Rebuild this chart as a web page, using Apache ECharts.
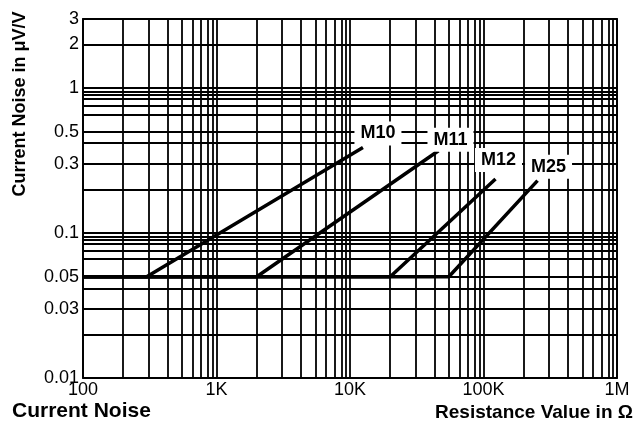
<!DOCTYPE html>
<html><head><meta charset="utf-8">
<script src="https://cdn.jsdelivr.net/npm/echarts@6/dist/echarts.min.js"></script>
<style>html,body{margin:0;padding:0;background:#fff}#c{width:640px;height:428px}</style>
</head><body><div id="c"></div>
<script>
// Series: [resistance (ohm), current noise (uV/V)]
const seriesNames = ['M10', 'M11', 'M12', 'M25'];
const M10 = [[100, 0.05], [300, 0.05], [12500, 0.39]];
const M11 = [[100, 0.05], [2000, 0.05], [46000, 0.37]];
const M12 = [[100, 0.05], [20000, 0.05], [123000, 0.236]];
const M25 = [[100, 0.05], [55000, 0.05], [254000, 0.23]];

// Axis tick labels
const xTickValues = [100, 1000, 10000, 100000, 1000000];
const xTickLabels = ['100', '1K', '10K', '100K', '1M'];
const yTickValues = [0.01, 0.03, 0.05, 0.1, 0.3, 0.5, 1, 2, 3];
const yTickLabels = ['0.01', '0.03', '0.05', '0.1', '0.3', '0.5', '1', '2', '3'];

// Grid lines (as drawn on the reference)
const xGridDecades = [100, 1000, 10000, 100000];
const xGridMantissas = [1, 2, 3.1, 4.3, 5.5, 6.6, 7.65, 8.6, 9.3];
const xGridLast = [1000000];
const yGridValues = [0.01, 0.02, 0.03, 0.041, 0.05, 0.066, 0.076, 0.084, 0.09, 0.095, 0.1,
                     0.2, 0.3, 0.42, 0.5, 0.66, 0.76, 0.84, 0.9, 0.95, 1, 2, 3];

const xGridValues = [];
xGridDecades.forEach(d => xGridMantissas.forEach(m => xGridValues.push(+(d * m).toPrecision(6))));
xGridLast.forEach(v => xGridValues.push(v));

const seriesData = [M10, M11, M12, M25];
const labelOffsets = [[15, -14], [12, -11], [3, -19], [11, -14]];

const FONT = 'Liberation Sans, Arial, Helvetica, sans-serif';

const chart = echarts.init(document.getElementById('c'), null, {renderer: 'canvas'});
chart.setOption({
  animation: false,
  backgroundColor: '#fff',
  grid: {left: 83, right: 23, top: 19, bottom: 50, show: true, borderColor: '#000', borderWidth: 1.8, backgroundColor: 'transparent'},
  xAxis: {
    type: 'log', logBase: 10, min: 100, max: 1000000,
    axisLine: {show: false},
    axisTick: {show: false, customValues: xGridValues},
    splitLine: {show: true, lineStyle: {color: '#000', width: 1.8}},
    minorSplitLine: {show: false},
    axisLabel: {
      customValues: xTickValues, margin: 3, color: '#000', fontFamily: FONT, fontSize: 18,
      formatter: v => { const i = xTickValues.findIndex(t => Math.abs(t - v) / t < 1e-6); return i >= 0 ? xTickLabels[i] : ''; }
    }
  },
  yAxis: {
    type: 'log', logBase: 10, min: 0.01, max: 3,
    axisLine: {show: false},
    axisTick: {show: false, customValues: yGridValues},
    splitLine: {show: true, lineStyle: {color: '#000', width: 1.8}},
    minorSplitLine: {show: false},
    axisLabel: {
      customValues: yTickValues, margin: 4, color: '#000', fontFamily: FONT, fontSize: 18,
      formatter: v => { const i = yTickValues.findIndex(t => Math.abs(t - v) / t < 1e-6); return i >= 0 ? yTickLabels[i] : ''; }
    }
  },
  graphic: [
    {type: 'text', x: 20, y: 104, rotation: Math.PI / 2,
     style: {text: 'Current Noise in μV/V', font: 'bold 18px ' + FONT, fill: '#000', align: 'center', verticalAlign: 'middle'}},
    {type: 'text', x: 12, y: 411,
     style: {text: 'Current Noise', font: 'bold 21px ' + FONT, fill: '#000', align: 'left', verticalAlign: 'middle'}},
    {type: 'text', x: 633, y: 413,
     style: {text: 'Resistance Value in Ω', font: 'bold 19px ' + FONT, fill: '#000', align: 'right', verticalAlign: 'middle'}}
  ],
  series: seriesData.map((d, si) => ({
    type: 'line',
    name: seriesNames[si],
    symbol: 'circle', symbolSize: 0, showSymbol: true,
    lineStyle: {color: '#000', width: 3.5},
    itemStyle: {color: '#000'},
    z: 3,
    data: d.map((p, i) => i === d.length - 1 ? {
      value: p,
      label: {
        show: true, formatter: seriesNames[si], position: 'inside', offset: labelOffsets[si],
        backgroundColor: '#fff', padding: [3, 6], color: '#000',
        fontFamily: FONT, fontSize: 18, fontWeight: 'bold'
      }
    } : {value: p})
  }))
});
</script>
</body></html>
